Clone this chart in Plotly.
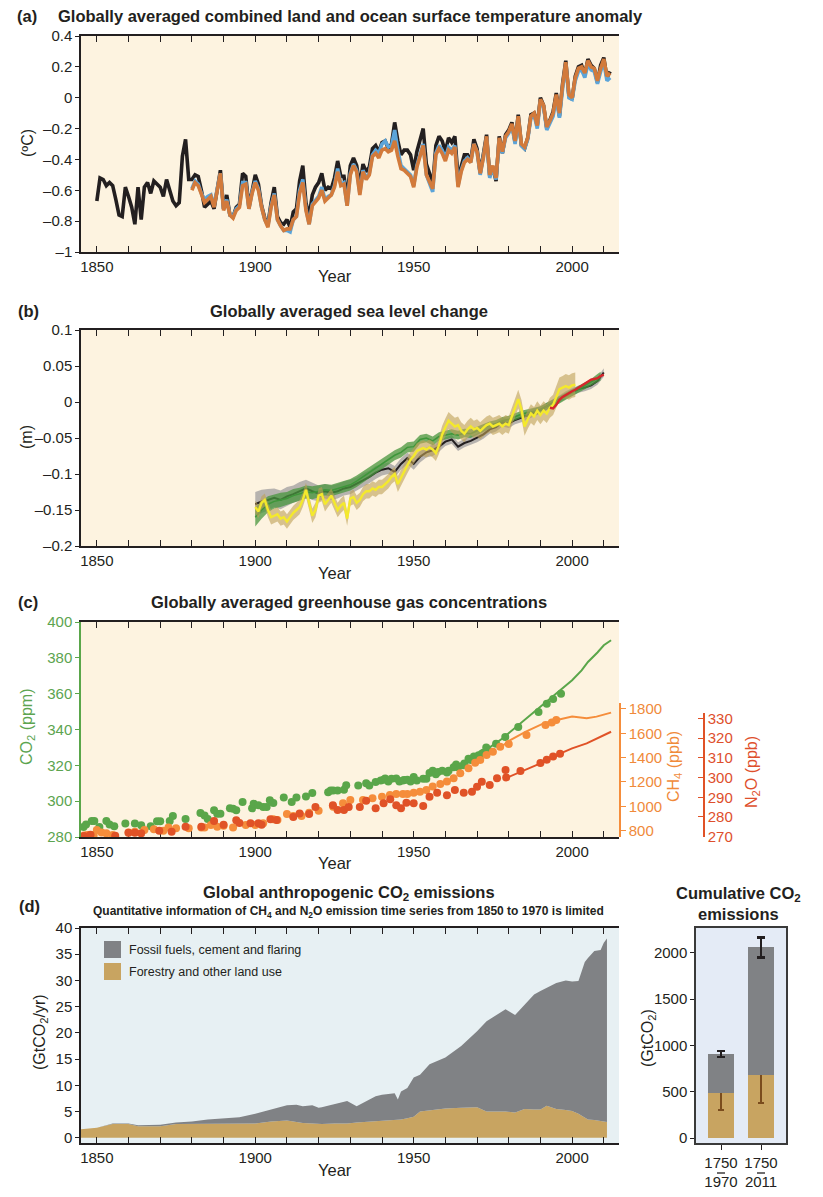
import numpy as np
import plotly.graph_objects as go

# ---------------- DATA ----------------
# (a) temperature anomaly (deg C, relative to 1986-2005)
temp_years_black = list(range(1850, 2013))
temp_black = [
    -0.67, -0.52, -0.53, -0.57, -0.55, -0.57, -0.66, -0.76, -0.77, -0.58,
    -0.64, -0.71, -0.82, -0.58, -0.79, -0.58, -0.55, -0.62, -0.54, -0.56,
    -0.58, -0.64, -0.53, -0.60, -0.67, -0.70, -0.68, -0.38, -0.27, -0.53,
    -0.53, -0.50, -0.51, -0.60, -0.71, -0.69, -0.67, -0.72, -0.61, -0.47,
    -0.72, -0.63, -0.76, -0.77, -0.71, -0.69, -0.49, -0.51, -0.71, -0.59,
    -0.50, -0.56, -0.70, -0.78, -0.82, -0.68, -0.58, -0.77, -0.81, -0.82,
    -0.79, -0.84, -0.74, -0.72, -0.54, -0.44, -0.68, -0.77, -0.63, -0.58,
    -0.55, -0.49, -0.60, -0.58, -0.59, -0.52, -0.41, -0.51, -0.51, -0.65,
    -0.44, -0.39, -0.44, -0.57, -0.43, -0.48, -0.45, -0.33, -0.31, -0.35,
    -0.29, -0.28, -0.33, -0.30, -0.16, -0.28, -0.37, -0.34, -0.34, -0.37,
    -0.47, -0.35, -0.27, -0.20, -0.43, -0.49, -0.57, -0.31, -0.25, -0.28,
    -0.35, -0.26, -0.29, -0.25, -0.52, -0.44, -0.37, -0.37, -0.41, -0.27,
    -0.33, -0.49, -0.37, -0.24, -0.51, -0.45, -0.54, -0.25, -0.36, -0.24,
    -0.21, -0.16, -0.29, -0.11, -0.31, -0.33, -0.26, -0.11, -0.10, -0.18,
    0.00, -0.05, -0.20, -0.15, -0.09, 0.03, -0.12, 0.09, 0.24, 0.01,
    -0.01, 0.14, 0.20, 0.21, 0.15, 0.25, 0.21, 0.19, 0.10, 0.21,
    0.26, 0.13, 0.17]
temp_years_other = list(range(1880, 2013))
temp_orange = [
    -0.60, -0.55, -0.57, -0.63, -0.68, -0.66, -0.64, -0.71, -0.60, -0.49,
    -0.73, -0.67, -0.76, -0.78, -0.73, -0.71, -0.57, -0.56, -0.72, -0.62,
    -0.55, -0.60, -0.71, -0.79, -0.84, -0.71, -0.63, -0.79, -0.83, -0.86,
    -0.85, -0.85, -0.79, -0.77, -0.62, -0.55, -0.73, -0.82, -0.70, -0.67,
    -0.65, -0.60, -0.67, -0.65, -0.63, -0.58, -0.48, -0.57, -0.56, -0.70,
    -0.50, -0.44, -0.48, -0.63, -0.48, -0.53, -0.50, -0.38, -0.36, -0.39,
    -0.34, -0.33, -0.35, -0.34, -0.28, -0.38, -0.46, -0.47, -0.49, -0.51,
    -0.58, -0.45, -0.38, -0.31, -0.50, -0.55, -0.59, -0.37, -0.33, -0.36,
    -0.41, -0.34, -0.36, -0.32, -0.58, -0.48, -0.42, -0.40, -0.42, -0.30,
    -0.35, -0.49, -0.39, -0.25, -0.50, -0.44, -0.52, -0.26, -0.35, -0.25,
    -0.22, -0.17, -0.28, -0.12, -0.30, -0.32, -0.26, -0.12, -0.10, -0.18,
    -0.01, -0.05, -0.19, -0.15, -0.10, 0.02, -0.10, 0.08, 0.23, 0.02,
    0.00, 0.13, 0.19, 0.20, 0.16, 0.24, 0.20, 0.19, 0.11, 0.19,
    0.25, 0.14, 0.16]
temp_blue = [
    -0.59, -0.54, -0.56, -0.62, -0.66, -0.64, -0.63, -0.70, -0.59, -0.49,
    -0.72, -0.66, -0.76, -0.77, -0.72, -0.70, -0.55, -0.55, -0.72, -0.61,
    -0.54, -0.59, -0.71, -0.79, -0.83, -0.70, -0.62, -0.79, -0.83, -0.86,
    -0.86, -0.87, -0.79, -0.77, -0.60, -0.53, -0.72, -0.82, -0.69, -0.66,
    -0.64, -0.58, -0.66, -0.64, -0.63, -0.57, -0.46, -0.56, -0.55, -0.70,
    -0.49, -0.43, -0.47, -0.62, -0.47, -0.52, -0.49, -0.37, -0.34, -0.36,
    -0.30, -0.28, -0.32, -0.31, -0.21, -0.34, -0.44, -0.46, -0.48, -0.50,
    -0.57, -0.44, -0.37, -0.30, -0.50, -0.56, -0.61, -0.36, -0.31, -0.34,
    -0.39, -0.32, -0.34, -0.31, -0.57, -0.47, -0.41, -0.39, -0.42, -0.30,
    -0.35, -0.50, -0.39, -0.26, -0.52, -0.45, -0.53, -0.27, -0.36, -0.26,
    -0.23, -0.18, -0.30, -0.13, -0.31, -0.33, -0.27, -0.13, -0.11, -0.20,
    -0.02, -0.06, -0.21, -0.17, -0.12, 0.00, -0.13, 0.06, 0.22, 0.00,
    -0.01, 0.11, 0.17, 0.18, 0.13, 0.22, 0.18, 0.17, 0.09, 0.17,
    0.23, 0.11, 0.13]

# (b) sea level change (m)
sl_years_black = list(range(1900, 2011, 2))
sl_black = [
    -0.142, -0.138, -0.136, -0.133, -0.136, -0.131, -0.128, -0.124, -0.120, -0.124,
    -0.127, -0.124, -0.126, -0.124, -0.120, -0.118, -0.114, -0.109, -0.104, -0.098,
    -0.094, -0.092, -0.097, -0.086, -0.078, -0.086, -0.076, -0.070, -0.067, -0.062,
    -0.055, -0.052, -0.062, -0.057, -0.054, -0.050, -0.045, -0.038, -0.035, -0.028,
    -0.030, -0.025, -0.022, -0.018, -0.015, -0.011, -0.006, -0.002, 0.004, 0.010,
    0.014, 0.018, 0.020, 0.023, 0.029, 0.041]
sl_black_unc = [
    0.017, 0.016, 0.015, 0.013, 0.013, 0.013, 0.012, 0.013, 0.012, 0.012,
    0.011, 0.010, 0.010, 0.010, 0.010, 0.010, 0.009, 0.010, 0.009, 0.009,
    0.008, 0.008, 0.008, 0.008, 0.008, 0.008, 0.008, 0.007, 0.008, 0.007,
    0.006, 0.006, 0.006, 0.006, 0.006, 0.006, 0.006, 0.006, 0.006, 0.006,
    0.006, 0.006, 0.006, 0.006, 0.006, 0.005, 0.005, 0.005, 0.005, 0.005,
    0.005, 0.005, 0.005, 0.005, 0.005, 0.006]
sl_years_green = list(range(1900, 2009, 2)) + [2009]
sl_green = [
    -0.160, -0.150, -0.142, -0.138, -0.136, -0.134, -0.130, -0.128, -0.125, -0.126,
    -0.124, -0.122, -0.123, -0.120, -0.117, -0.115, -0.110, -0.104, -0.098, -0.092,
    -0.086, -0.080, -0.074, -0.070, -0.063, -0.062, -0.052, -0.050, -0.054, -0.048,
    -0.046, -0.044, -0.046, -0.043, -0.044, -0.040, -0.036, -0.032, -0.030, -0.026,
    -0.024, -0.020, -0.017, -0.015, -0.013, -0.011, -0.006, -0.002, 0.003, 0.008,
    0.013, 0.017, 0.022, 0.027, 0.033, 0.036]
sl_green_unc = [
    0.013, 0.012, 0.011, 0.010, 0.010, 0.009, 0.009, 0.009, 0.009, 0.009,
    0.008, 0.008, 0.008, 0.008, 0.008, 0.008, 0.008, 0.008, 0.008, 0.008,
    0.007, 0.007, 0.007, 0.007, 0.007, 0.007, 0.006, 0.006, 0.006, 0.006,
    0.006, 0.006, 0.006, 0.006, 0.006, 0.006, 0.005, 0.005, 0.005, 0.005,
    0.005, 0.005, 0.005, 0.005, 0.005, 0.005, 0.005, 0.005, 0.005, 0.005,
    0.005, 0.005, 0.005, 0.005, 0.006, 0.006]
sl_years_yellow = list(range(1900, 2002))
sl_yellow = [
    -0.146, -0.152, -0.140, -0.136, -0.150, -0.160, -0.158, -0.156, -0.162, -0.160,
    -0.166, -0.160, -0.154, -0.150, -0.146, -0.136, -0.122, -0.140, -0.158, -0.150,
    -0.130, -0.128, -0.142, -0.136, -0.130, -0.140, -0.150, -0.144, -0.140, -0.162,
    -0.134, -0.132, -0.140, -0.136, -0.128, -0.124, -0.124, -0.120, -0.122, -0.118,
    -0.118, -0.114, -0.110, -0.104, -0.100, -0.114, -0.105, -0.095, -0.088, -0.080,
    -0.075, -0.068, -0.066, -0.064, -0.066, -0.063, -0.066, -0.071, -0.060, -0.045,
    -0.035, -0.026, -0.030, -0.034, -0.032, -0.040, -0.044, -0.038, -0.034, -0.038,
    -0.036, -0.040, -0.036, -0.032, -0.030, -0.034, -0.032, -0.030, -0.034, -0.030,
    -0.032, -0.020, -0.008, 0.004, -0.010, -0.034, -0.024, -0.016, -0.020, -0.012,
    -0.018, -0.012, -0.016, -0.008, -0.004, 0.006, 0.018, 0.020, 0.022, 0.020,
    0.023, 0.024]
sl_yellow_unc = [
    0.009, 0.009, 0.009, 0.009, 0.010, 0.010, 0.010, 0.010, 0.010, 0.010,
    0.010, 0.010, 0.010, 0.010, 0.010, 0.010, 0.010, 0.010, 0.010, 0.010,
    0.010, 0.010, 0.010, 0.010, 0.010, 0.010, 0.010, 0.010, 0.010, 0.010,
    0.010, 0.010, 0.010, 0.010, 0.010, 0.010, 0.010, 0.010, 0.010, 0.010,
    0.010, 0.010, 0.010, 0.010, 0.010, 0.011, 0.011, 0.011, 0.011, 0.011,
    0.011, 0.011, 0.011, 0.011, 0.011, 0.011, 0.011, 0.011, 0.012, 0.012,
    0.012, 0.012, 0.012, 0.012, 0.012, 0.012, 0.012, 0.012, 0.012, 0.012,
    0.012, 0.012, 0.012, 0.012, 0.012, 0.012, 0.012, 0.012, 0.012, 0.012,
    0.012, 0.013, 0.013, 0.013, 0.013, 0.013, 0.013, 0.013, 0.013, 0.013,
    0.013, 0.013, 0.013, 0.014, 0.014, 0.015, 0.016, 0.016, 0.017, 0.017,
    0.017, 0.017]
sl_years_red = list(range(1993, 2011))
sl_red = [-0.008, -0.009, -0.004, 0.003, 0.007, 0.010, 0.012, 0.015, 0.017, 0.020,
          0.022, 0.025, 0.028, 0.031, 0.032, 0.033, 0.036, 0.038]

# (c) greenhouse gas concentrations
co2_core_years = [
    1845.8, 1846.6, 1848.4, 1849.2, 1850.8, 1853.0, 1854.0, 1855.5, 1859.0, 1862.0,
    1864.0, 1867.0, 1869.0, 1870.0, 1873.0, 1874.0, 1878.0, 1882.7, 1884.0, 1885.0,
    1887.0, 1888.0, 1889.0, 1892.0, 1893.0, 1894.0, 1896.0, 1899.0, 1899.5, 1901.0,
    1902.5, 1903.6, 1904.6, 1905.7, 1909.0, 1911.5, 1913.0, 1916.0, 1918.0, 1923.0,
    1923.8, 1924.6, 1926.0, 1928.0, 1928.7, 1932.5, 1935.0, 1936.0, 1938.0, 1939.6,
    1940.5, 1941.0, 1942.0, 1943.0, 1944.5, 1945.5, 1946.6, 1947.0, 1948.0, 1949.0,
    1950.0, 1951.0, 1953.0, 1954.0, 1955.0, 1956.0, 1957.0, 1957.7, 1959.0, 1960.5,
    1961.0, 1962.6, 1963.4, 1964.0, 1965.7, 1966.0, 1967.3, 1968.0, 1969.0, 1970.0,
    1970.5, 1971.5, 1972.0, 1972.9, 1973.6, 1976.0, 1978.9, 1983.0, 1989.4, 1992.0,
    1994.0, 1996.5]
co2_core = [
    285.6, 287.0, 289.0, 289.0, 285.6, 289.0, 287.0, 286.0, 287.5, 287.5,
    286.6, 286.0, 288.8, 288.8, 288.9, 291.7, 290.0, 293.4, 292.0, 290.0,
    295.0, 293.0, 293.0, 296.0, 295.8, 295.0, 299.5, 296.0, 298.6, 297.7,
    296.7, 296.7, 300.5, 299.0, 302.0, 299.6, 302.0, 302.6, 304.5, 305.0,
    306.0, 306.0, 306.0, 306.4, 308.9, 308.8, 310.0, 308.8, 310.7, 311.6,
    312.0, 312.6, 311.0, 312.5, 312.6, 311.0, 311.6, 311.8, 312.0, 311.0,
    313.5, 311.5, 312.5, 312.5, 315.7, 317.0, 315.0, 316.3, 317.0, 316.0,
    317.0, 319.0, 320.5, 319.0, 320.0, 321.0, 323.7, 323.0, 325.0, 324.0,
    325.6, 326.5, 327.0, 330.0, 328.0, 332.0, 335.8, 341.4, 349.8, 354.4,
    357.0, 360.0]
co2_line_years = [1958, 1962, 1966, 1970, 1974, 1978, 1980, 1985, 1990, 1995,
                  2000, 2003, 2005, 2008, 2010, 2012.3]
co2_line = [315.5, 318.5, 321.5, 325.5, 330.0, 335.0, 338.0, 345.0, 352.6, 360.0,
            367.5, 373.0, 377.7, 383.0, 387.0, 389.8]

ch4_core_years = [
    1846, 1847, 1849, 1850, 1851.5, 1853, 1855, 1860, 1862, 1865,
    1868, 1871, 1872.6, 1875, 1879, 1883, 1884, 1886, 1888, 1890,
    1893, 1897, 1900, 1902.5, 1905.7, 1907, 1910, 1912, 1914.6, 1917,
    1920, 1924.6, 1927.7, 1930, 1934, 1937, 1940, 1942.5, 1944.5, 1946.6,
    1948, 1950, 1952, 1954, 1956, 1958.4, 1960.5, 1962.6, 1964.7, 1967.3,
    1969.4, 1971, 1973, 1975, 1977.3, 1980, 1985.6, 1991.6, 1993.6, 1995]
ch4_core = [
    760, 765, 765, 805, 786, 778, 765, 784, 792, 805,
    811, 800, 827, 819, 819, 827, 827, 847, 833, 841,
    827, 847, 847, 860, 893, 888, 937, 921, 921, 948,
    964, 997, 1025, 1052, 1052, 1066, 1079, 1093, 1101, 1101,
    1101, 1112, 1120, 1134, 1162, 1184, 1203, 1230, 1271, 1312,
    1359, 1381, 1422, 1449, 1490, 1512, 1586, 1668, 1688, 1710]
ch4_line_years = [1977, 1980.5, 1985.4, 1991, 1995.2, 2000, 2004.6, 2007.7, 2012.3]
ch4_line = [1477, 1545, 1614, 1682, 1710, 1737, 1723, 1737, 1770]

n2o_core_years = [
    1846, 1848, 1855.8, 1860, 1862, 1864, 1869.7, 1873.6, 1878, 1883,
    1887, 1890, 1894, 1895, 1898.5, 1901, 1902, 1904.8, 1906.7, 1912,
    1914, 1917, 1919, 1924.5, 1926, 1928, 1929.5, 1933, 1935, 1938,
    1940.5, 1942.6, 1944.5, 1946, 1947.7, 1950, 1953, 1955, 1957.4, 1960.5,
    1963, 1965.8, 1968.4, 1970, 1971.5, 1974, 1976.3, 1979, 1979.2, 1983.7,
    1990, 1992, 1994, 1996.2]
n2o_core = [
    270.4, 271.0, 270.5, 272.0, 272.0, 271.7, 273.0, 272.5, 275.0, 275.0,
    278.0, 276.0, 278.4, 277.0, 276.8, 276.8, 276.0, 278.8, 278.5, 280.0,
    281.8, 281.5, 285.0, 286.0, 283.5, 283.5, 285.0, 285.0, 288.2, 284.4,
    287.0, 289.0, 286.0, 284.4, 287.2, 287.0, 285.5, 290.3, 292.3, 291.0,
    293.7, 292.3, 292.8, 295.3, 297.9, 296.2, 299.6, 303.8, 300.0, 303.3,
    307.4, 309.0, 310.6, 312.0]
n2o_line_years = [1979, 1983.7, 1990, 1996, 2000, 2004.6, 2012.3]
n2o_line = [299.6, 303.0, 307.2, 312.0, 314.8, 317.3, 323.2]

# (d) annual anthropogenic CO2 emissions (GtCO2/yr)
em_years = [1845, 1850, 1855, 1860, 1863, 1865, 1870, 1875, 1880, 1885,
            1890, 1895, 1900, 1905, 1910, 1913, 1915, 1918, 1920, 1921,
            1925, 1929, 1932, 1935, 1938, 1940, 1944, 1945, 1946, 1948,
            1950, 1952, 1955, 1960, 1965, 1970, 1973, 1975, 1979, 1982,
            1985, 1988, 1990, 1992, 1995, 1998, 2000, 2002, 2004, 2005,
            2007, 2009, 2010, 2011]
em_land = [1.6, 1.9, 2.6, 2.6, 2.2, 2.2, 2.2, 2.6, 2.6, 2.6,
           2.6, 2.6, 2.7, 3.1, 3.3, 3.0, 2.8, 2.7, 2.6, 2.6,
           2.7, 2.7, 2.9, 3.0, 3.1, 3.2, 3.3, 3.4, 3.5, 3.7,
           4.0, 5.0, 5.2, 5.6, 5.7, 5.8, 5.0, 5.0, 5.0, 4.8,
           5.5, 5.4, 5.4, 6.1, 5.5, 5.3, 5.1, 4.6, 3.8, 3.5,
           3.4, 3.2, 3.1, 3.0]
em_total = [1.6, 1.9, 2.7, 2.7, 2.4, 2.4, 2.5, 2.9, 3.1, 3.5,
            3.7, 3.9, 4.6, 5.4, 6.2, 6.3, 6.0, 6.2, 5.7, 5.8,
            6.4, 7.0, 6.0, 7.0, 7.9, 8.2, 8.5, 7.3, 8.8, 9.5,
            11.5, 12.0, 14.0, 15.3, 17.5, 20.3, 22.2, 23.0, 24.5, 23.4,
            25.4, 27.3, 28.0, 28.6, 29.5, 30.0, 29.8, 29.9, 33.5, 34.3,
            35.6, 35.8, 37.2, 38.0]

# cumulative CO2 emissions (GtCO2)
cum_periods = [0, 1]
cum_labels = ["1750<br>1970", "1750<br>2011"]
cum_land = [490, 680]
cum_land_err_plus = [180, 305]
cum_land_err_minus = [190, 300]
cum_fossil = [420, 1380]
cum_total_err_plus = [30, 105]
cum_total_err_minus = [35, 110]

temp_ticks = [0.4, 0.2, 0, -0.2, -0.4, -0.6, -0.8, -1]
temp_ticklabels = ["0.4", "0.2", "0", "–0.2", "–0.4", "–0.6", "–0.8", "–1"]
sl_ticks = [0.1, 0.05, 0, -0.05, -0.1, -0.15, -0.2]
sl_ticklabels = ["0.1", "0.05", "0", "–0.05", "–0.1", "–0.15", "–0.2"]
co2_ticks = [280, 300, 320, 340, 360, 380, 400]
ch4_ticks = [800, 1000, 1200, 1400, 1600, 1800]
n2o_ticks = [270, 280, 290, 300, 310, 320, 330]
em_ticks = [0, 5, 10, 15, 20, 25, 30, 35, 40]
cum_ticks = [0, 500, 1000, 1500, 2000]

# ---------------- STYLE ----------------
# the page body has an 8px margin, so the figure starts at (8, 8)
OFF = 8
W, H = 823 - OFF, 1197 - OFF
def px(x): return (x - OFF) / W
def py(y): return 1 - (y - OFF) / H

FONT = "Liberation Sans, Arial, sans-serif"
DARK = "#231F20"
CREAM = "#FDF3E0"
BLUE_BG = "#E7F0F3"
CUM_BG = "#E4EBF6"
GRAY = "#808285"
TAN = "#C8A461"
C_CO2 = "#5AA64A"
C_CH4 = "#F58D3B"
C_N2O = "#E05227"
T_CO2 = "#5CA450"
T_CH4 = "#F08A3A"
T_N2O = "#DE4F2C"
TICK = 15

XDOM = [px(81), px(619)]
XRANGE = [1845, 2014.8]

fig = go.Figure()

# ---- (a) temperature ----
fig.add_trace(go.Scatter(x=temp_years_black, y=temp_black, mode="lines",
                         line=dict(color=DARK, width=3.6), xaxis="x", yaxis="y"))
fig.add_trace(go.Scatter(x=temp_years_other, y=temp_blue, mode="lines",
                         line=dict(color="#5BA4D9", width=3.6), xaxis="x", yaxis="y"))
fig.add_trace(go.Scatter(x=temp_years_other, y=temp_orange, mode="lines",
                         line=dict(color="#D27A3B", width=3.6), xaxis="x", yaxis="y"))

# ---- (b) sea level ----
def band(xs, vals, unc, color, xa, ya):
    v = np.array(vals); u = np.array(unc)
    fig.add_trace(go.Scatter(x=xs, y=v + u, mode="lines", line=dict(width=0, color=color),
                             xaxis=xa, yaxis=ya, hoverinfo="skip"))
    fig.add_trace(go.Scatter(x=xs, y=v - u, mode="lines", line=dict(width=0, color=color),
                             fill="tonexty", fillcolor=color, xaxis=xa, yaxis=ya, hoverinfo="skip"))

band(sl_years_black, sl_black, sl_black_unc, "rgba(125,125,135,0.55)", "x2", "y2")
fig.add_trace(go.Scatter(x=sl_years_black, y=sl_black, mode="lines",
                         line=dict(color=DARK, width=2), xaxis="x2", yaxis="y2"))
band(sl_years_green, sl_green, sl_green_unc, "rgba(72,150,62,0.75)", "x2", "y2")
fig.add_trace(go.Scatter(x=sl_years_green, y=sl_green, mode="lines",
                         line=dict(color="#3E963A", width=1.5), xaxis="x2", yaxis="y2"))
band(sl_years_yellow, sl_yellow, sl_yellow_unc, "rgba(190,160,85,0.6)", "x2", "y2")
fig.add_trace(go.Scatter(x=sl_years_yellow, y=sl_yellow, mode="lines",
                         line=dict(color="#F4E92C", width=2.4), xaxis="x2", yaxis="y2"))
fig.add_trace(go.Scatter(x=sl_years_red, y=sl_red, mode="lines",
                         line=dict(color="#D6262B", width=2.4), xaxis="x2", yaxis="y2"))

# ---- (c) greenhouse gases ----
fig.add_trace(go.Scatter(x=co2_core_years, y=co2_core, mode="markers",
                         marker=dict(color=C_CO2, size=8), xaxis="x3", yaxis="y3"))
fig.add_trace(go.Scatter(x=co2_line_years, y=co2_line, mode="lines",
                         line=dict(color=C_CO2, width=2), xaxis="x3", yaxis="y3"))
fig.add_trace(go.Scatter(x=ch4_core_years, y=ch4_core, mode="markers",
                         marker=dict(color=C_CH4, size=8), xaxis="x3", yaxis="y4"))
fig.add_trace(go.Scatter(x=ch4_line_years, y=ch4_line, mode="lines",
                         line=dict(color=C_CH4, width=2), xaxis="x3", yaxis="y4"))
fig.add_trace(go.Scatter(x=n2o_core_years, y=n2o_core, mode="markers",
                         marker=dict(color=C_N2O, size=8), xaxis="x3", yaxis="y5"))
fig.add_trace(go.Scatter(x=n2o_line_years, y=n2o_line, mode="lines",
                         line=dict(color=C_N2O, width=2), xaxis="x3", yaxis="y5"))

# ---- (d) emissions ----
fig.add_trace(go.Scatter(x=em_years, y=em_land, mode="lines", line=dict(width=0, color=TAN),
                         fill="tozeroy", fillcolor=TAN, xaxis="x4", yaxis="y6"))
fig.add_trace(go.Scatter(x=em_years, y=em_total, mode="lines", line=dict(width=0, color=GRAY),
                         fill="tonexty", fillcolor=GRAY, xaxis="x4", yaxis="y6"))

# ---- cumulative ----
fig.add_trace(go.Bar(x=cum_periods, y=cum_land, width=0.65, marker=dict(color=TAN, line=dict(width=0)),
                     error_y=dict(type="data", symmetric=False, array=cum_land_err_plus,
                                  arrayminus=cum_land_err_minus, color="#7A4C1D", thickness=2, width=3),
                     xaxis="x5", yaxis="y7"))
fig.add_trace(go.Bar(x=cum_periods, y=cum_fossil, width=0.65, marker=dict(color=GRAY, line=dict(width=0)),
                     error_y=dict(type="data", symmetric=False, array=cum_total_err_plus,
                                  arrayminus=cum_total_err_minus, color=DARK, thickness=2.5, width=4),
                     xaxis="x5", yaxis="y7"))

# ---------------- AXES ----------------
tickfont = dict(family=FONT, size=TICK, color=DARK)

def xax(anchor, domain=XDOM):
    return dict(domain=domain, range=XRANGE, anchor=anchor, tickmode="linear", tick0=1850,
                dtick=50, ticks="inside", ticklen=6, tickwidth=1.2, tickcolor=DARK,
                minor=dict(tick0=1850, dtick=10, ticks="inside", ticklen=6, tickwidth=1.2,
                           tickcolor=DARK, showgrid=False),
                showline=True, linecolor=DARK, linewidth=1.5,
                mirror="ticks", showgrid=False, zeroline=False, tickfont=tickfont)

def yleft(anchor, dom, rng, tv, tt=None, color=DARK, tcolor=DARK):
    d = dict(domain=dom, range=rng, anchor=anchor, tickvals=tv, ticks="outside", ticklen=4,
             tickwidth=1.2, tickcolor=color, showline=True, linecolor=color, linewidth=1.5,
             showgrid=False, zeroline=False, tickfont=dict(family=FONT, size=TICK, color=tcolor))
    if tt is not None:
        d["ticktext"] = tt
    return d

def yright(over, anchor, rng, tv, ticks="inside"):
    return dict(overlaying=over, anchor=anchor, side="right", range=rng, tickvals=tv,
                ticks=ticks, ticklen=6, tickwidth=1.2, tickcolor=DARK, showline=True,
                linecolor=DARK, linewidth=1.5, showticklabels=False, showgrid=False,
                zeroline=False)

DOM_A = [py(252), py(36)]
DOM_B = [py(546), py(330)]
DOM_C = [py(837), py(622)]
DOM_D = [py(1143), py(928)]

layout_axes = dict(
    xaxis=xax("y"),
    yaxis=yleft("x", DOM_A, [-1, 0.4], temp_ticks, temp_ticklabels),
    yaxis8=yright("y", "x", [-1, 0.4], temp_ticks),
    xaxis2=xax("y2"),
    yaxis2=yleft("x2", DOM_B, [-0.2, 0.1], sl_ticks, sl_ticklabels),
    yaxis9=yright("y2", "x2", [-0.2, 0.1], sl_ticks),
    xaxis3=xax("y3"),
    yaxis3=yleft("x3", DOM_C, [280, 400], co2_ticks, None, C_CO2, T_CO2),
    yaxis10=yright("y3", "x3", [280, 400], [], ""),
    yaxis4=dict(domain=[py(837), py(703)], anchor="x3", side="right", range=[748, 1849],
                tickvals=ch4_ticks, ticks="outside", ticklen=5, tickwidth=1.2, tickcolor=C_CH4,
                showline=True, linecolor=C_CH4, linewidth=1.5, showgrid=False, zeroline=False,
                tickfont=dict(family=FONT, size=TICK, color=T_CH4)),
    yaxis5=dict(domain=[py(837), py(713)], anchor="free", position=px(704), side="right",
                range=[269.85, 332.7], tickvals=n2o_ticks, ticks="inside", ticklen=5,
                tickwidth=1.2, tickcolor=C_N2O, showline=True, linecolor=C_N2O, linewidth=1.5,
                showgrid=False, zeroline=False, tickfont=dict(family=FONT, size=TICK, color=T_N2O)),
    xaxis4=xax("y6"),
    yaxis6=yleft("x4", DOM_D, [-1, 40], em_ticks),
    yaxis11=yright("y6", "x4", [-1, 40], em_ticks),
    xaxis5=dict(domain=[px(696), px(786)], anchor="y7", range=[-0.625, 1.625],
                tickvals=cum_periods, ticktext=cum_labels, ticks="outside", ticklen=5,
                tickwidth=1.2, tickcolor=DARK, showline=True, linecolor="#3A3A3A", linewidth=1.5,
                mirror=True, showgrid=False, zeroline=False,
                tickfont=dict(family=FONT, size=TICK, color=DARK)),
    yaxis7=dict(domain=DOM_D, anchor="x5", range=[-54, 2270], tickvals=cum_ticks,
                ticks="outside", ticklen=4, tickwidth=1.2, tickcolor=DARK, showline=True,
                linecolor="#3A3A3A", linewidth=1.5, mirror=True, showgrid=False, zeroline=False,
                tickfont=tickfont),
)

# ---------------- BACKGROUNDS / LEGEND SHAPES ----------------
shapes = []
for xr, yr, col in [("x", "y", CREAM), ("x2", "y2", CREAM), ("x3", "y3", CREAM),
                    ("x4", "y6", BLUE_BG), ("x5", "y7", CUM_BG)]:
    shapes.append(dict(type="rect", xref=xr + " domain", yref=yr + " domain", x0=0, x1=1,
                       y0=0, y1=1, fillcolor=col, line=dict(width=0), layer="below"))
shapes.append(dict(type="rect", xref="paper", yref="paper", x0=px(104), x1=px(121),
                   y0=py(958), y1=py(941), fillcolor=GRAY, line=dict(width=0)))
shapes.append(dict(type="rect", xref="paper", yref="paper", x0=px(104), x1=px(121),
                   y0=py(980), y1=py(963), fillcolor=TAN, line=dict(width=0)))
# small dashes between the two-line period labels
for cx in (721, 761):
    shapes.append(dict(type="line", xref="paper", yref="paper", x0=px(cx - 4), x1=px(cx + 4),
                       y0=py(1173), y1=py(1173), line=dict(color=DARK, width=1.3)))

# ---------------- TEXT ----------------
def ann(text, x, y, size=16, color=DARK, angle=0, xanchor="center"):
    return dict(text=text, x=px(x), y=py(y), xref="paper", yref="paper", showarrow=False,
                font=dict(family=FONT, size=size, color=color), textangle=angle,
                xanchor=xanchor, yanchor="middle")

TS = 16.5
annotations = [
    ann("<b>(a)</b>", 27, 16, TS),
    ann("<b>Globally averaged combined land and ocean surface temperature anomaly</b>", 350, 16, TS),
    ann("(ºC)", 27, 143, 16, angle=-90),
    ann("Year", 335, 276, 16.5),
    ann("<b>(b)</b>", 28, 311, TS),
    ann("<b>Globally averaged sea level change</b>", 349, 311, TS),
    ann("(m)", 27, 437, 16, angle=-90),
    ann("Year", 335, 573, 16.5),
    ann("<b>(c)</b>", 28, 602, TS),
    ann("<b>Globally averaged greenhouse gas concentrations</b>", 349, 602, TS),
    ann("CO<sub>2</sub> (ppm)", 27, 727, 16, color=T_CO2, angle=-90),
    ann("CH<sub>4</sub> (ppb)", 674, 767, 16, color=T_CH4, angle=-90),
    ann("N<sub>2</sub>O (ppb)", 752, 772, 16, color=T_N2O, angle=-90),
    ann("Year", 335, 863, 16.5),
    ann("<b>(d)</b>", 29, 906, TS),
    ann("<b>Global anthropogenic CO<sub>2</sub> emissions</b>", 349, 893, TS),
    ann("<b>Quantitative information of CH<sub>4</sub> and N<sub>2</sub>O emission time series from 1850 to 1970 is limited</b>",
        348, 912, 12),
    ann("(GtCO<sub>2</sub>/yr)", 40, 1032, 16, angle=-90),
    ann("Fossil fuels, cement and flaring", 127, 950, 12.5, xanchor="left"),
    ann("Forestry and other land use", 127, 972, 12.5, xanchor="left"),
    ann("Year", 335, 1170, 16.5),
    ann("<b>Cumulative CO<sub>2</sub><br>emissions</b>", 738, 903, TS),
    ann("(GtCO<sub>2</sub>)", 648, 1038, 16, angle=-90),
]

fig.update_layout(
    width=W, height=H, margin=dict(l=0, r=0, t=0, b=0), autosize=False,
    paper_bgcolor="white", plot_bgcolor="rgba(0,0,0,0)", showlegend=False,
    template="none", barmode="stack", font=dict(family=FONT, color=DARK),
    shapes=shapes, annotations=annotations, **layout_axes,
)

fig.write_html("out.html")
